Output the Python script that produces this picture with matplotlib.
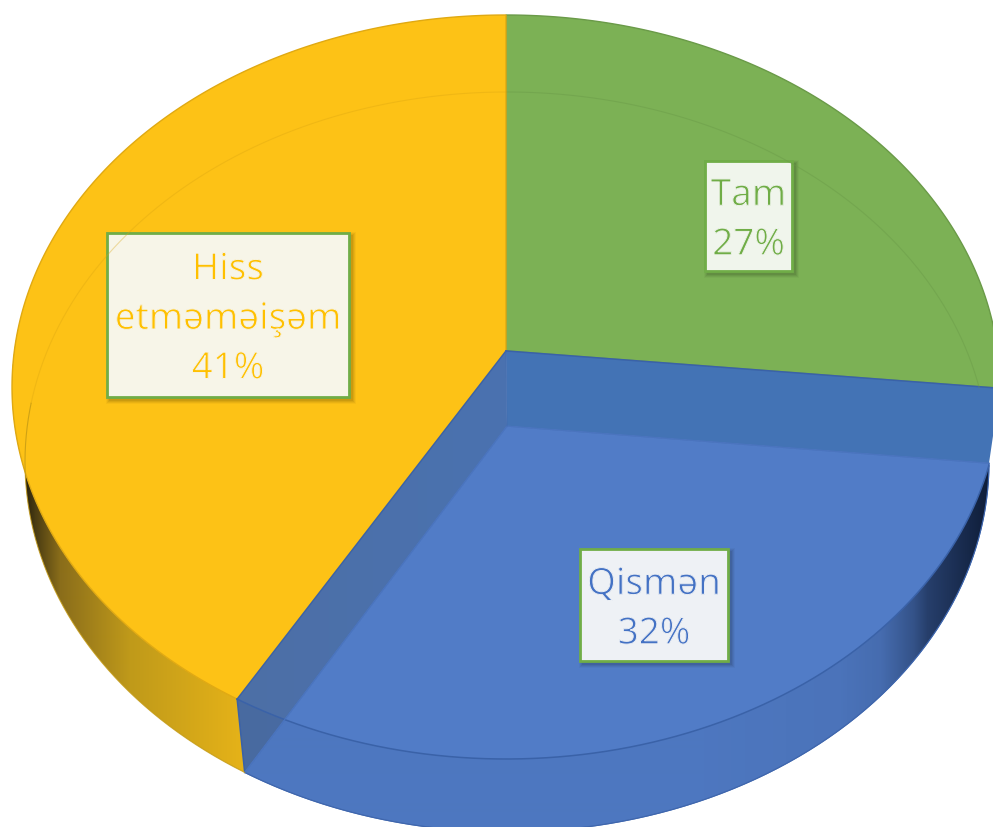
#!/usr/bin/env python3
import matplotlib
matplotlib.use("Agg")
import matplotlib.patheffects as pe
import matplotlib.pyplot as plt
import numpy as np
from matplotlib.patches import Polygon, Rectangle

# clockwise from 12 o'clock
NAMES = ["Tam", "Qismən", "Hiss\netməməişəm"]
SHARES = [26.6, 31.75, 41.65]
PERCENT_LABELS = ["27%", "32%", "41%"]

GREEN = "#7CB155"
BLUE_FLOOR = "#517CC7"
YELLOW = "#FDC216"
TEXT_COLORS = ["#70AD47", "#4472C4", "#FFC000"]
BOX_FILLS = ["#F0F5EC", "#EEF1F5", "#F7F5E8"]
# left, top, right, bottom in pixels
BOXES = [(705, 162, 792, 272), (580, 550, 728, 662), (107, 234, 349, 398)]

TOP = dict(cx=506, cy=388, a=494, b=372)
LOW = dict(cx=507, cy=463, a=482, b=370)
PERSPECTIVE = 0.097

W, H = 993, 828


def project(share, disc):
    # share (0-100, clockwise from top) to pixels, with the centre pushed back
    t = np.asarray(share) / 100 * 2 * np.pi
    k = PERSPECTIVE
    den = 1 + k * np.cos(t)
    x = np.sin(t) * np.sqrt(1 - k * k) / den
    v = (np.cos(t) + k) / den
    return np.column_stack([disc["cx"] + disc["a"] * x, disc["cy"] - disc["b"] * v])


def apex(disc):
    return np.array([[disc["cx"], disc["cy"] - disc["b"] * PERSPECTIVE]])


def arc(s0, s1, disc):
    return project(np.linspace(s0, s1, 240), disc)


def gradient_fill(ax, pts, xs, colors):
    patch = Polygon(pts, closed=True, facecolor="none", edgecolor="none")
    ax.add_patch(patch)
    grid = np.arange(0, W)
    rgba = np.array([matplotlib.colors.to_rgba(c) for c in colors])
    img = np.stack([np.interp(grid, xs, rgba[:, i]) for i in range(4)], axis=1)[None, :, :]
    # same zorder as the patches so that drawing order decides
    im = ax.imshow(img, extent=(0, W, H, 0), aspect="auto", interpolation="bilinear", zorder=1)
    im.set_clip_path(patch)


def main():
    fig = plt.figure(figsize=(W / 100, H / 100), dpi=100)
    ax = fig.add_axes([0, 0, 1, 1])

    s1 = SHARES[0]
    s2 = SHARES[0] + SHARES[1]
    a_top, a_low = apex(TOP), apex(LOW)

    # yellow side
    side = np.vstack([arc(s2, 76, TOP), arc(76, s2, LOW)])
    gradient_fill(ax, side, [20, 35, 60, 130, 245],
                  ["#1A1608", "#4A3C12", "#8A6D1A", "#C09A1A", "#E6B318"])

    # top faces
    green = np.vstack([a_top, arc(0, s1, TOP)])
    yellow = np.vstack([a_top, arc(s2, 100, TOP)])
    ax.add_patch(Polygon(green, closed=True, facecolor=GREEN, edgecolor="#6A9A48", lw=1.0))
    ax.add_patch(Polygon(yellow, closed=True, facecolor=YELLOW, edgecolor="#E0A912", lw=1.0))

    # blue slice is see-through: walls and floor
    right_wall = np.vstack([a_top, a_low, project([s1], LOW), project([s1], TOP)])
    left_wall = np.vstack([a_top, a_low, project([s2], LOW), project([s2], TOP)])
    floor = np.vstack([a_low, arc(s1, s2, LOW)])
    ax.add_patch(Polygon(right_wall, closed=True, facecolor="#4373B5", edgecolor="none"))
    gradient_fill(ax, left_wall, [240, 506], ["#4D6FA6", "#4A72B0"])
    ax.add_patch(Polygon(floor, closed=True, facecolor=BLUE_FLOOR, edgecolor="#4A74BE", lw=0.8))

    # blue side, darkening to the right; the top arc only leaves the lower one past s1
    s_cross = s1 + 3.3
    side = np.vstack([arc(s_cross, s2, TOP), arc(s2, s1, LOW)])
    gradient_fill(ax, side, [240, 700, 840, 880, 913, 927, 985],
                  [(0.05, 0.1, 0.2, 0.05), (0.05, 0.1, 0.2, 0.05), (0.05, 0.1, 0.2, 0.09),
                   (0.05, 0.1, 0.2, 0.16), (0.05, 0.1, 0.2, 0.42), (0.05, 0.1, 0.2, 0.62),
                   (0.05, 0.1, 0.2, 0.95)])

    # edges
    edge = "#3A62A8"
    ax.plot(*arc(s_cross, s2, TOP).T, color=edge, lw=1.1)
    ax.plot(*arc(s1, s2, LOW).T, color="#3F66AC", lw=0.8)
    ax.plot(*np.vstack([a_top, project([s1], TOP)]).T, color=edge, lw=1.1)
    ax.plot(*np.vstack([a_top, project([s2], TOP)]).T, color=edge, lw=1.0)
    ax.plot(*np.vstack([project([s2], TOP), project([s2], LOW)]).T, color=edge, lw=1.1)
    ax.plot(*np.vstack([a_low, project([s2], LOW)]).T, color="#4A74BE", lw=0.8)
    ax.plot(*np.vstack([a_low, project([s1], LOW)]).T, color="#4A74BE", lw=0.8)
    ax.plot(*np.vstack([a_top, a_low]).T, color="#4069AE", lw=0.5)
    # inner line stops where it meets the slice edge
    ax.plot(*arc(0, s1 - 3.3, LOW).T, color="#6A9A48", lw=0.8, alpha=0.45)
    ax.plot(*arc(s2, 76, LOW).T, color="#C49A14", lw=0.8, alpha=0.8)
    ax.plot(*arc(76, 100, LOW).T, color="#D9A412", lw=0.8, alpha=0.35)

    # data labels
    for name, pct, box, fill, color in zip(NAMES, PERCENT_LABELS, BOXES, BOX_FILLS, TEXT_COLORS):
        x0, y0, x1, y1 = box
        for grow, alpha in [(4, 0.03), (3, 0.05), (2, 0.06), (1, 0.07)]:
            ax.add_patch(Rectangle((x0 + 3 - grow, y0 + 3 - grow), x1 - x0 + 2 * grow, y1 - y0 + 2 * grow,
                                   facecolor="black", edgecolor="none", alpha=alpha))
        ax.add_patch(Rectangle((x0, y0), x1 - x0, y1 - y0, facecolor=fill, edgecolor="#70AD47", lw=2.0))
        # no light weight installed, so thin the glyphs with an outline in the box colour
        ax.text((x0 + x1) / 2, (y0 + y1) / 2 + 5, f"{name}\n{pct}", ha="center", va="center",
                color=color, fontsize=26.5, family=["Noto Sans", "DejaVu Sans"],
                linespacing=1.5,
                path_effects=[pe.Normal(), pe.Stroke(linewidth=0.7, foreground=fill)])

    ax.set_xlim(0, W)
    ax.set_ylim(H, 0)
    ax.axis("off")
    fig.savefig("out.png", dpi=100, facecolor="white")
    plt.close(fig)


if __name__ == "__main__":
    main()
